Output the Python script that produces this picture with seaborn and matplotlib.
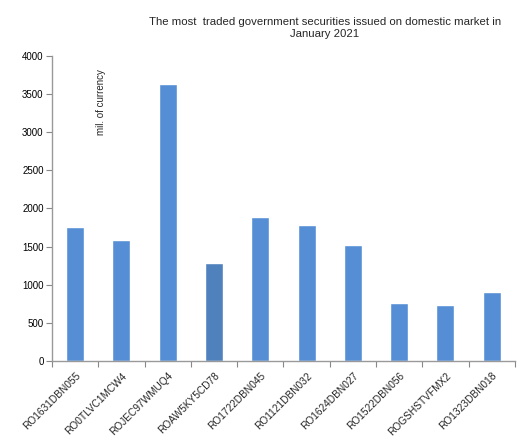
import matplotlib
matplotlib.use("Agg")
import matplotlib.pyplot as plt
import seaborn as sns
import pandas as pd
import numpy as np

securities = ["RO1631DBN055", "RO0TLVC1MCW4", "ROJEC97WMUQ4", "ROAW5KY5CD78",
              "RO1722DBN045", "RO1121DBN032", "RO1624DBN027", "RO1522DBN056",
              "ROGSHSTVFMX2", "RO1323DBN018"]
volumes = [1760, 1590, 3630, 1280, 1890, 1785, 1520, 760, 730, 905]
bar_colors = ["#558ED5", "#558ED5", "#558ED5", "#4F81BD", "#558ED5",
              "#558ED5", "#558ED5", "#558ED5", "#558ED5", "#558ED5"]

sns.set_theme(style="white")
plt.rcParams["font.family"] = ["Liberation Sans", "DejaVu Sans"]

df = pd.DataFrame({"security": securities, "volume": volumes})

fig = plt.figure(figsize=(5.2, 4.38), dpi=100)
ax = fig.add_axes([0.1, 0.176, 0.89, 0.696])

sns.barplot(data=df, x="security", y="volume", hue="security",
            palette=bar_colors, legend=False, width=0.39, saturation=1,
            ax=ax)

ax.set_xlim(-0.5, len(securities) - 0.5)
ax.set_ylim(0, 4000)
ax.set_yticks(np.arange(0, 4001, 500))
ax.tick_params(axis="y", labelsize=7, length=4, width=0.8, color="#888888",
               direction="out", left=True, pad=2, labelcolor="black")
ax.set_xticks(np.arange(len(securities)))
ax.set_xticklabels(securities, rotation=45, ha="right",
                   rotation_mode="anchor", fontsize=7.3)
ax.tick_params(axis="x", length=0, pad=7)
ax.set_xticks(np.arange(len(securities) + 1) - 0.5, minor=True)
ax.tick_params(axis="x", which="minor", length=4, width=0.8,
               color="#888888", direction="out", bottom=True)

for side in ["top", "right"]:
    ax.spines[side].set_visible(False)
for side in ["left", "bottom"]:
    ax.spines[side].set_color("#999999")
    ax.spines[side].set_linewidth(1.0)

ax.set_xlabel("")
ax.set_ylabel("")
ax.text(0.56, 3830, "mil. of currency", rotation=90, ha="center", va="top",
        fontsize=7)

fig.text(0.625, 0.935,
         "The most  traded government securities issued on domestic market in\nJanuary 2021",
         ha="center", va="center", fontsize=8.2, linespacing=1.25)

fig.savefig("out.png", dpi=100)
